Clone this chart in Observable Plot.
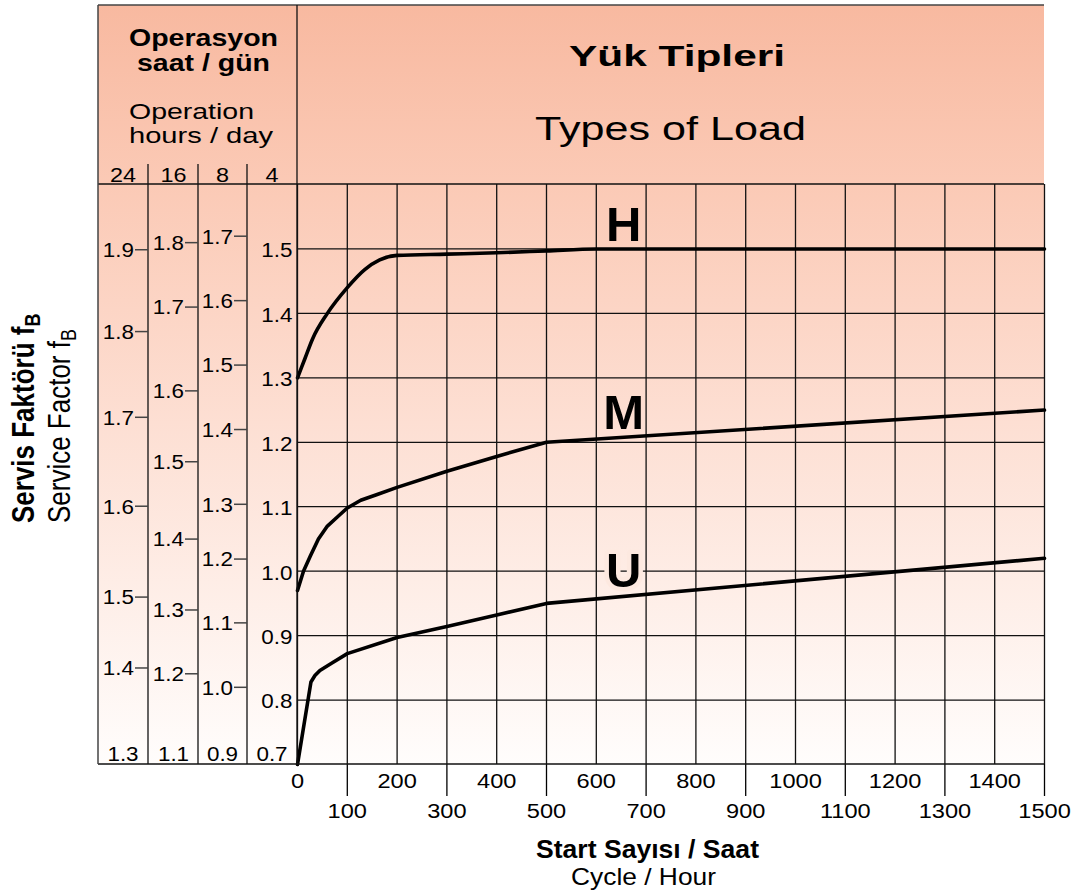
<!DOCTYPE html>
<html><head><meta charset="utf-8">
<script src="https://cdn.jsdelivr.net/npm/d3@7"></script>
<script src="https://cdn.jsdelivr.net/npm/@observablehq/plot@0.6"></script>
<style>body{margin:0;background:#fff}svg{display:block}</style>
</head><body><div id="chart"></div>
<script>
// ---- data ----
const xGrid = [0,100,200,300,400,500,600,700,800,900,1000,1100,1200,1300,1400,1500];
const xTicksTop = [0,200,400,600,800,1000,1200,1400];
const xTicksBottom = [100,300,500,700,900,1100,1300,1500];
const yGrid = [0.8,0.9,1.0,1.1,1.2,1.3,1.4,1.5];
const y4Ticks = [0.8,0.9,1.0,1.1,1.2,1.3,1.4,1.5];

// curves: cycles per hour -> service factor (4 h/day scale)
const hX = [0,15,30,60,100,135,165,200,300,400,500,600,1000,1500];
const hY = [1.30,1.33,1.36,1.40,1.44,1.468,1.483,1.49,1.492,1.494,1.497,1.50,1.50,1.50];
const mX = [0,12,26,42,60,80,100,127,160,200,300,400,500,1500];
const mY = [0.97,1.00,1.024,1.05,1.07,1.084,1.098,1.11,1.119,1.13,1.155,1.178,1.20,1.25];
const uX = [0,27,35,45,70,100,200,300,400,500,1500];
const uY = [0.70,0.828,0.838,0.846,0.858,0.872,0.897,0.914,0.932,0.95,1.02];

const loadTypes = ["H","M","U"];
const loadLabelX = [655,655,655];
const loadLabelY = [1.537,1.245,1.0];

// secondary service-factor scales (label, equivalent value on the 4 h/day scale)
const hours = ["24","16","8","4"];
const s24Labels = ["1.9","1.8","1.7","1.6","1.5","1.4"];
const s24At = [1.498,1.371,1.238,1.100,0.959,0.849];
const s16Labels = ["1.8","1.7","1.6","1.5","1.4","1.3","1.2"];
const s16At = [1.509,1.409,1.279,1.169,1.049,0.939,0.840];
const s8Labels = ["1.7","1.6","1.5","1.4","1.3","1.2","1.1","1.0"];
const s8At = [1.519,1.419,1.319,1.219,1.103,1.018,0.919,0.819];
const bottomLabels = ["1.3","1.1","0.9","0.7"];

const FONT = "'Liberation Sans', Arial, Helvetica, sans-serif";
const toRows = (xs, ys) => xs.map((x, i) => ({x, y: ys[i]}));
const hData = toRows(hX, hY), mData = toRows(mX, mY), uData = toRows(uX, uY);
const labels = loadTypes.map((t, i) => ({t, x: loadLabelX[i], y: loadLabelY[i]}));

const chart = Plot.plot({
  width: 1075, height: 895,
  marginLeft: 297, marginRight: 31, marginTop: 184, marginBottom: 131,
  style: {fontFamily: FONT, background: "white", color: "#000"},
  x: {domain: [0, 1500]},
  y: {domain: [0.7, 1.6]},
  marks: [
    Plot.ruleX(xGrid, {stroke: "#111", strokeWidth: 1.3}),
    Plot.ruleY(yGrid, {stroke: "#111", strokeWidth: 1.3}),
    Plot.line(hData, {x: "x", y: "y", curve: "monotone-x", stroke: "#000", strokeWidth: 3.6}),
    Plot.line(mData, {x: "x", y: "y", curve: "linear", stroke: "#000", strokeWidth: 3.6, strokeLinejoin: "round"}),
    Plot.line(uData, {x: "x", y: "y", curve: "linear", stroke: "#000", strokeWidth: 3.6, strokeLinejoin: "round"}),
    Plot.text(labels.filter(d => d.t !== "U"), {x: "x", y: "y", text: "t", fontSize: 49, fontWeight: "bold", fill: "#000"}),
    Plot.text(labels.filter(d => d.t === "U"), {x: "x", y: "y", text: "t", fontSize: 49, fontWeight: "bold", fill: "#000", stroke: "#fde9e0", strokeWidth: 9, paintOrder: "stroke"}),
    Plot.axisX(xTicksTop, {tickFormat: "d", tickSize: 0, tickPadding: 9, fontSize: 20, label: null}),
    Plot.axisX(xTicksBottom, {tickFormat: "d", tickSize: 32, tickPadding: 7, fontSize: 20, label: null, strokeWidth: 1.3}),
    Plot.axisY(y4Ticks, {tickFormat: ".1f", tickSize: 0, tickPadding: 5, fontSize: 20, label: null, dy: 2})
  ]
});
document.getElementById("chart").append(chart);

const svg = d3.select(chart);
const ys = chart.scale("y"), xs = chart.scale("x");
const Y = v => ys.apply(v), X = v => xs.apply(v);

const L = 98, T = 5, B = Y(0.7), R = X(1500), P = X(0), HB = Y(1.6);

// background gradient
const defs = svg.insert("defs", ":first-child");
const g = defs.append("linearGradient").attr("id", "bg").attr("x1", 0).attr("x2", 0).attr("y1", 0).attr("y2", 1);
[["0%", "#f8b9a0"], ["24%", "#fbcab6"], ["55%", "#fddfd3"], ["100%", "#fffdfc"]]
  .forEach(([o, c]) => g.append("stop").attr("offset", o).attr("stop-color", c));
svg.insert("rect", "defs + *").attr("x", L).attr("y", T).attr("width", R - L).attr("height", B - T).attr("fill", "url(#bg)");

const deco = svg.append("g").attr("font-family", FONT).attr("fill", "#000");
const line = (x1, y1, x2, y2, c = "#111", w = 1.3) =>
  deco.append("line").attr("x1", x1).attr("y1", y1).attr("x2", x2).attr("y2", y2).attr("stroke", c).attr("stroke-width", w);

// frame lines
line(L, T, R, T, "#444", 1.6);
line(L, HB, R, HB);
line(L, B, R, B, "#111", 1.5);
line(L, T, L, B, "#444", 1.5);
line(P, T, P, B);
[148, 198, 247].forEach(x => line(x, 164, x, B));

const txt = (s, x, y, size, opts = {}) => {
  const t = deco.append("text").attr("x", x).attr("y", y).attr("font-size", size)
    .attr("text-anchor", opts.anchor || "middle").attr("font-weight", opts.bold ? "bold" : "normal").text(s);
  if (opts.len) t.attr("textLength", opts.len).attr("lengthAdjust", "spacingAndGlyphs");
  if (opts.k) t.attr("data-k", opts.k);
  return t;
};

// header text
txt("Operasyon", 203.5, 46, 24, {bold: true, len: 149});
txt("saat / gün", 203.5, 71, 24, {bold: true, len: 133});
txt("Operation", 129, 119, 22, {anchor: "start", len: 125});
txt("hours / day", 129, 143, 22, {anchor: "start", len: 144});
const hourCenters = [123, 173.5, 222.5, 272];
hours.forEach((h, i) => txt(h, hourCenters[i], 182, 19.5, {k: 1.2}));
txt("Yük Tipleri", 677, 66, 30, {bold: true, len: 216});
txt("Types of Load", 670.5, 140, 33, {len: 271});

// secondary scales
const cols = [[s24Labels, s24At, 148], [s16Labels, s16At, 198], [s8Labels, s8At, 247]];
cols.forEach(([labs, at, xr]) => {
  labs.forEach((lab, i) => {
    line(xr - 13, Y(at[i]), xr, Y(at[i]), "#444", 1.5);
    txt(lab, xr - 14, Y(at[i]) + 7.3, 20, {anchor: "end", k: 1.12});
  });
});
bottomLabels.forEach((lab, i) => txt(lab, hourCenters[i], B - 3, 20, {k: 1.12}));

// axis titles
txt("Start Sayısı / Saat", 647.5, 858, 26, {bold: true, len: 223});
txt("Cycle / Hour", 643.5, 885, 24, {len: 145});

const yt1 = deco.append("text").attr("transform", "translate(34,523) scale(1.2,1) rotate(-90)")
  .attr("font-size", 26).attr("font-weight", "bold").attr("text-anchor", "start");
yt1.append("tspan").text("Servis Faktörü f");
yt1.append("tspan").attr("font-size", 18).attr("dy", 5).text("B");
const yt2 = deco.append("text").attr("transform", "translate(70,523) scale(1.2,1) rotate(-90)")
  .attr("font-size", 26).attr("text-anchor", "start");
yt2.append("tspan").text("Service Factor f");
yt2.append("tspan").attr("font-size", 18).attr("dy", 5).text("B");

// horizontal stretch of tick labels to match the reference typeface
function stretch(sel, k) {
  sel.each(function () {
    const w = this.getComputedTextLength();
    this.setAttribute("textLength", w * k);
    this.setAttribute("lengthAdjust", "spacingAndGlyphs");
  });
}
stretch(svg.selectAll("g[aria-label='x-axis tick label'] text"), 1.18);
stretch(svg.selectAll("g[aria-label='y-axis tick label'] text"), 1.12);
deco.selectAll("text[data-k]").each(function () { stretch(d3.select(this), +this.getAttribute("data-k")); });
</script>
</body></html>
